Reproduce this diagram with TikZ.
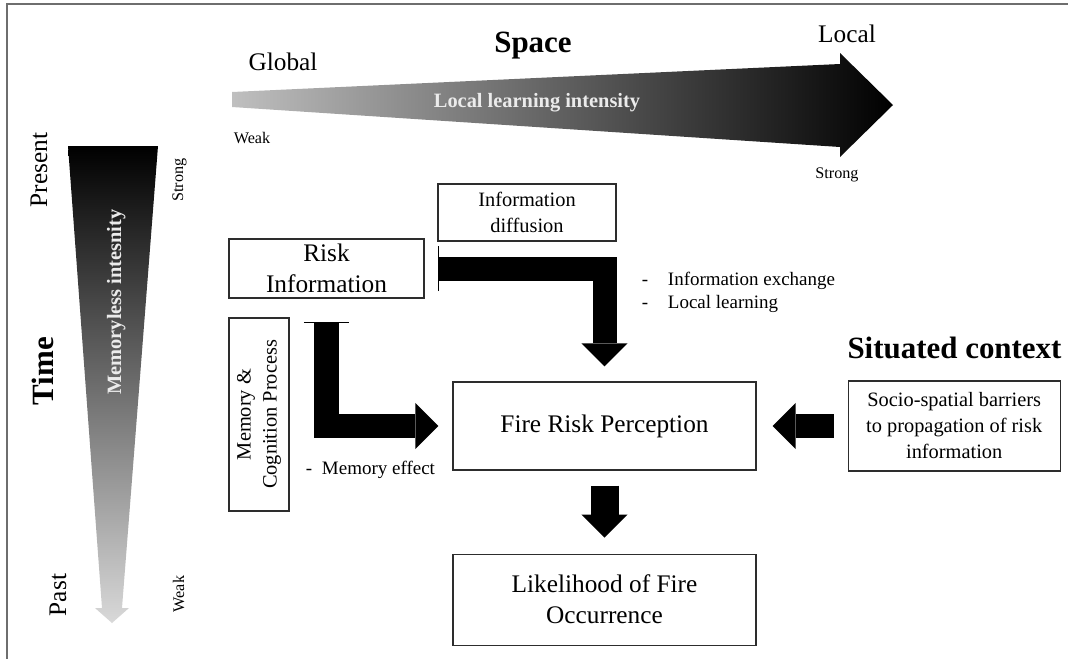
\documentclass[tikz,border=0pt]{standalone}
\usepackage{fontspec}
\setmainfont{Liberation Serif}
\usetikzlibrary{arrows.meta, positioning}
\definecolor{framegray}{RGB}{110,110,110}
\definecolor{boxline}{RGB}{45,45,45}

\begin{document}
\begin{tikzpicture}[
    x=0.025cm, y=-0.025cm,
    box/.style={draw=boxline, line width=0.8pt, align=center, inner sep=0pt,
                font=\fontsize{18}{22}\selectfont},
    sbox/.style={box, font=\fontsize{14.5}{18.5}\selectfont},
    head/.style={font=\fontsize{22}{26}\selectfont\bfseries},
    axislabel/.style={font=\fontsize{18}{22}\selectfont},
    tag/.style={font=\fontsize{11.5}{14}\selectfont},
    inside/.style={font=\fontsize{14.5}{17}\selectfont\bfseries, text=black!8},
    note/.style={font=\fontsize{13.5}{16}\selectfont, anchor=base west},
    flow/.style={line width=0.6cm, line join=miter,
                 -{Triangle[length=0.575cm, width=1.15cm, line width=0pt]}},
    barflow/.style={flow, {Bar[width=1.125cm, line width=0.8pt]}-{Triangle[length=0.575cm, width=1.15cm, line width=0pt]}}
  ]
  \useasboundingbox (0,0) rectangle (1068,659);
  \draw[framegray, line width=1.2pt] (1068,4) -- (7,4) -- (7,659);

  % space: global -> local
  \shade[left color=black!25, right color=black]
    (232,92) -- (840,64) -- (840,53) -- (893,105) -- (840,157) -- (840,147) -- (232,107) -- cycle;
  \node[head, anchor=base] (space) at (533,52) {Space};
  \node[axislabel, anchor=base] (global) at (283,70) {Global};
  \node[axislabel, anchor=base] (local) at (847,42) {Local};
  \node[inside, anchor=base] (lli) at (537,107) {Local learning intensity};
  \node[tag, anchor=base] (weakx) at (252,143) {Weak};
  \node[tag, anchor=base] (strongx) at (837,178) {Strong};

  % time: present -> past
  \shade[top color=black, bottom color=black!15]
    (68,146) -- (158,146) -- (122,608) -- (129,608) -- (112,623) -- (95,608) -- (102,608) -- cycle;
  \node[axislabel, rotate=90, anchor=base] (present) at (47,170) {Present};
  \node[head, rotate=90, anchor=base] (time) at (53,371) {Time};
  \node[axislabel, rotate=90, anchor=base] (past) at (66,595) {Past};
  \node[tag, rotate=90, anchor=base] (strongy) at (183,180) {Strong};
  \node[tag, rotate=90, anchor=base] (weaky) at (184,594) {Weak};
  \node[inside, rotate=90, anchor=base] (mli) at (121,302) {Memoryless intesnity};

  % boxes
  \node[box, minimum width=4.875cm, minimum height=1.475cm] (risk) at (326.5,268.5) {Risk\\Information};
  \node[sbox, minimum width=4.45cm, minimum height=1.425cm] (diff) at (527,212.5) {Information\\diffusion};
  \node[sbox, rotate=90, minimum width=4.825cm, minimum height=1.5cm] (mem) at (259,414.5) {Memory \&\\Cognition Process};
  \node[box, minimum width=7.575cm, minimum height=2.2cm] (frp) at (604.5,426) {Fire Risk Perception};
  \node[box, minimum width=7.575cm, minimum height=2.275cm, below=2.075cm of frp] (like) {Likelihood of Fire\\Occurrence};
  \node[sbox, minimum width=5.3cm, minimum height=2.25cm, right=2.275cm of frp] (socio)
    {Socio-spatial barriers\\to propagation of risk\\information};
  \node[head, anchor=base] (ctx) at (954.5,358) {Situated context};

  \node[note] (exch) at (637,285) {\makebox[0.65cm][l]{-}Information exchange};
  \node[note] (learn) at (637,308) {\makebox[0.65cm][l]{-}Local learning};
  \node[note] (memeff) at (301,474) {\makebox[0.4cm][l]{-}Memory effect};

  % block arrows
  \draw[barflow] ([xshift=0.325cm]risk.east) -| ([yshift=0.375cm]frp.north);
  \draw[barflow] ([yshift=-0.575cm]risk.south) |- ([xshift=-0.35cm]frp.west);
  \draw[flow, line width=0.7cm] ([yshift=-0.375cm]frp.south) -- ([yshift=0.4cm]like.north);
  \draw[flow] ([xshift=-0.35cm]socio.west) -- ([xshift=0.4cm]frp.east);
\end{tikzpicture}
\end{document}
